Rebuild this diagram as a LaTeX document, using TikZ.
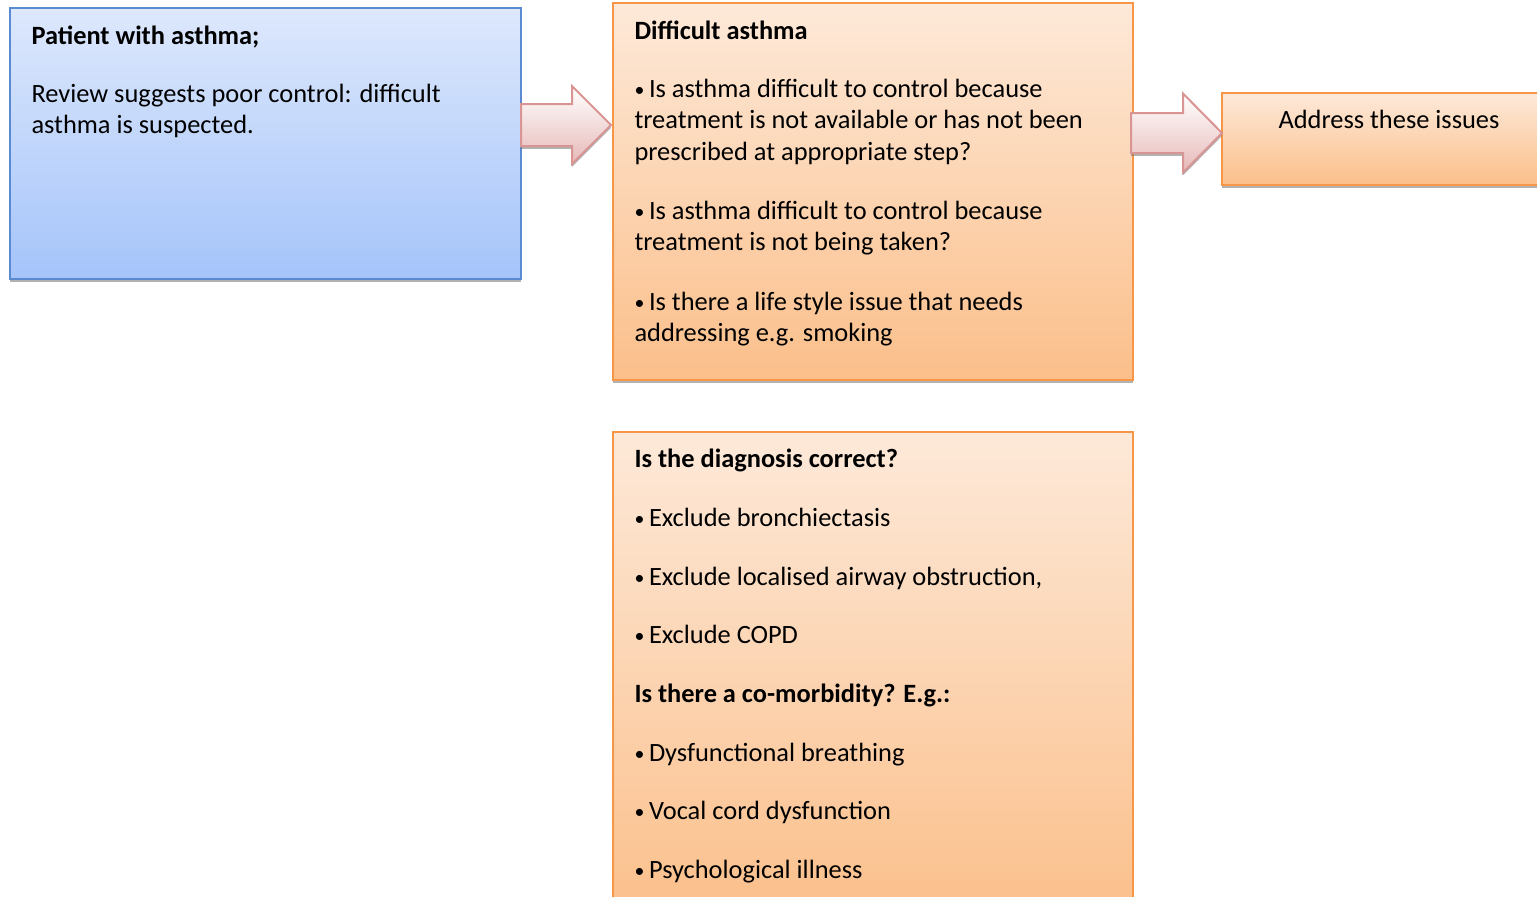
\documentclass[tikz,border=0pt]{standalone}
\usepackage{fontspec}
\setmainfont{Carlito}
\usetikzlibrary{shadows}

\definecolor{bluetop}{HTML}{DDE8FC}
\definecolor{bluebot}{HTML}{A5C4FA}
\definecolor{blueline}{HTML}{5A8AD0}
\definecolor{orangetop}{HTML}{FDE9D9}
\definecolor{orangebot}{HTML}{FBBF8A}
\definecolor{orangeline}{HTML}{F79646}
\definecolor{arrowbot}{HTML}{E6B9B8}
\definecolor{arrowline}{HTML}{D99594}

\newcommand{\bul}{\raisebox{0.6pt}{\scalebox{0.75}{•}}\hspace{-1pt}}

\tikzset{
  every picture/.style={line width=0.75pt},
  boxshadow/.style={drop shadow={shadow xshift=0pt,shadow yshift=-2.2pt,fill=black!55,opacity=.55}},
  bluebox/.style={rectangle,draw=blueline,line width=1.5pt,top color=bluetop,bottom color=bluebot,anchor=north west,inner sep=0pt,outer sep=0pt,boxshadow},
  orangebox/.style={rectangle,draw=orangeline,line width=1.5pt,top color=orangetop,bottom color=orangebot,anchor=north west,inner sep=0pt,outer sep=0pt,boxshadow},
  blockarrow/.style={draw=arrowline,line width=1.5pt,line join=miter,top color=white,bottom color=arrowbot,boxshadow},
  txt/.style={font=\fontsize{19.8pt}{23.5pt}\selectfont,inner sep=0pt,align=left,anchor=base west},
}

\begin{document}
\begin{tikzpicture}[x=0.75pt,y=0.75pt,yscale=-1,xscale=1]
		\useasboundingbox (0,0) rectangle (1537,896);
		
		%Boxes
		\node[bluebox,minimum width=383.25pt,minimum height=203.25pt] (patient) at (10,8) {};
		\node[orangebox,minimum width=390pt,minimum height=282.75pt] (difficult) at (613,3) {};
		\node[orangebox,minimum width=250.5pt,minimum height=69pt] (address) at (1222,93) {};
		\node[orangebox,minimum width=390pt,minimum height=367.5pt] (diagnosis) at (613,432) {};
		
		%Block arrows, tail on the box edge (yshift runs downwards here)
		\coordinate (tailA) at ([yshift=87.75pt]patient.north east);
		\coordinate (tailB) at ([yshift=97.5pt,xshift=-1.5pt]difficult.north east);
		\draw[blockarrow] (tailA) -- ++(0,-21) -- ++(51,0) -- ++(0,-18) -- ++(39,39) -- ++(-39,39) -- ++(0,-18) -- ++(-51,0) -- cycle;
		\draw[blockarrow] (tailB) -- ++(0,-20) -- ++(52,0) -- ++(0,-19.5) -- ++(39,39.5) -- ++(-39,39.5) -- ++(0,-19.5) -- ++(-52,0) -- cycle;
		
		%Texts (base = last line)
		\node[txt] (ptitle) at (31,44) {\textbf{Patient with asthma;}};
		\node[txt] (preview) at (31,133.5) {Review suggests poor control: difficult\\asthma is suspected.};
		
		\node[txt] (dtitle) at (634,39) {\textbf{Difficult asthma}};
		\node[txt] (dq1) at (634,160) {\bul{} Is asthma difficult to control because\\treatment is not available or has not been\\prescribed at appropriate step?};
		\node[txt] (dq2) at (634,250.5) {\bul{} Is asthma difficult to control because\\treatment is not being taken?};
		\node[txt] (dq3) at (634,341.5) {\bul{} Is there a life style issue that needs\\addressing e.g. smoking};
		
		\node[txt,anchor=base] (atext) at (1389,128) {Address these issues};
		
		\node[txt] (gtitle) at (634,467) {\textbf{Is the diagnosis correct?}};
		\node[txt] (g1) at (634,526) {\bul{} Exclude bronchiectasis};
		\node[txt] (g2) at (634,585) {\bul{} Exclude localised airway obstruction,};
		\node[txt] (g3) at (634,643.5) {\bul{} Exclude COPD};
		\node[txt] (ctitle) at (634,702) {\textbf{Is there a co-morbidity? E.g.:}};
		\node[txt] (c1) at (634,761) {\bul{} Dysfunctional breathing};
		\node[txt] (c2) at (634,819.5) {\bul{} Vocal cord dysfunction};
		\node[txt] (c3) at (634,878) {\bul{} Psychological illness};
		
	\end{tikzpicture}
\end{document}
